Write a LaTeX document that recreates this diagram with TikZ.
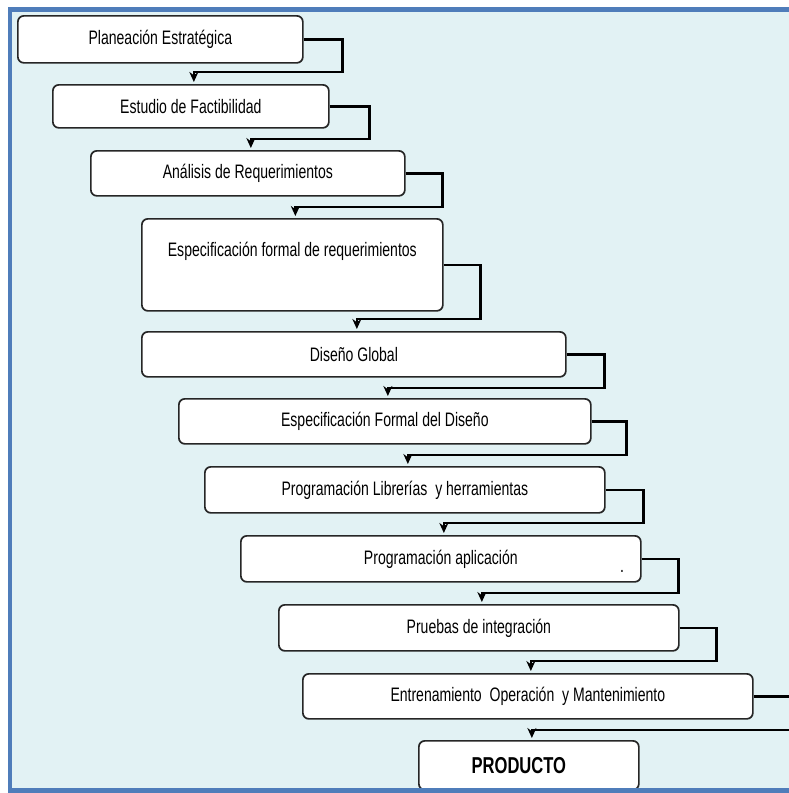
\documentclass[tikz,border=0pt]{standalone}
\usepackage{fontspec}
\setmainfont{Liberation Sans}[FakeStretch=0.72]
\usepackage{xcolor}
\usepackage{tikz}
\usetikzlibrary{arrows.meta,positioning}
\definecolor{fondo}{HTML}{E2F2F4}
\definecolor{marco}{HTML}{4F7DBA}

\begin{document}
\begin{tikzpicture}[
  x=1pt, y=-1pt,
  every node/.style={font=\fontsize{19.5}{23}\selectfont},
  fase/.style={draw=black!85, line width=1.7pt, rounded corners=6pt, fill=white, anchor=north west, inner sep=0pt, align=center},
  enlace/.style={-{Stealth[length=10pt,width=9pt]}, line width=2.7pt, draw=black, shorten >=2pt}
]
\useasboundingbox (0,0) rectangle (788,793);
\fill[white] (0,0) rectangle (788,793);
\fill[fondo] (10,9.5) rectangle (800,790.5);
\node[fase, minimum width=285pt, minimum height=47pt] (plan) at (17,15) {Planeación Estratégica};
\node[fase, minimum width=276pt, minimum height=43pt] (fact) at (52,84) {Estudio de Factibilidad};
\node[fase, minimum width=314pt, minimum height=45pt] (anal) at (90,150) {Análisis de Requerimientos};
\node[fase, minimum width=301pt, minimum height=92pt, text depth=32pt] (espreq) at (141,218) {Especificación formal de requerimientos};
\node[fase, minimum width=424pt, minimum height=45pt] (disg) at (141,331) {Diseño Global};
\node[fase, minimum width=412pt, minimum height=45pt] (espdis) at (178,398) {Especificación Formal del Diseño};
\node[fase, minimum width=400pt, minimum height=46pt] (proglib) at (204,466) {Programación Librerías\ \ y herramientas};
\node[fase, minimum width=400pt, minimum height=46pt] (progapl) at (240,535) {Programación aplicación};
\node[anchor=base] (punto) at (622,572) {.};
\node[fase, minimum width=400pt, minimum height=46pt] (prueb) at (278,604) {Pruebas de integración};
\node[fase, minimum width=450pt, minimum height=45pt] (entr) at (302,673) {Entrenamiento\ \ Operación\ \ y Mantenimiento};
\node[fase, minimum width=220pt, minimum height=49pt, font=\fontsize{23}{27}\selectfont\bfseries] (prod) at (418,740) {PRODUCTO\hspace*{20pt}};
\draw[enlace] (plan.east) -- ++(39,0) |- ([xshift=3pt,yshift=12pt]fact.north) -- ([xshift=3pt]fact.north);
\draw[enlace] (fact.east) -- ++(40,0) |- ([xshift=3pt,yshift=11pt]anal.north) -- ([xshift=3pt]anal.north);
\draw[enlace] (anal.east) -- ++(37,0) |- ([xshift=3pt,yshift=11pt]espreq.north) -- ([xshift=3pt]espreq.north);
\draw[enlace] (espreq.east) -- ++(37,0) |- ([xshift=3pt,yshift=12pt]disg.north) -- ([xshift=3pt]disg.north);
\draw[enlace] (disg.east) -- ++(38,0) |- ([xshift=3pt,yshift=10pt]espdis.north) -- ([xshift=3pt]espdis.north);
\draw[enlace] (espdis.east) -- ++(35,0) |- ([xshift=3pt,yshift=11pt]proglib.north) -- ([xshift=3pt]proglib.north);
\draw[enlace] (proglib.east) -- ++(38,0) |- ([xshift=3pt,yshift=12pt]progapl.north) -- ([xshift=3pt]progapl.north);
\draw[enlace] (progapl.east) -- ++(37,0) |- ([xshift=3pt,yshift=11pt]prueb.north) -- ([xshift=3pt]prueb.north);
\draw[enlace] (prueb.east) -- ++(37,0) |- ([xshift=3pt,yshift=12pt]entr.north) -- ([xshift=3pt]entr.north);
\draw[enlace] (entr.east) -- ++(50,0) |- ([xshift=3pt,yshift=10pt]prod.north) -- ([xshift=3pt]prod.north);
% marco
\draw[marco, line width=4.5pt] (800,9.5) -- (10,9.5) -- (10,790.5) -- (800,790.5);
\end{tikzpicture}
\end{document}
